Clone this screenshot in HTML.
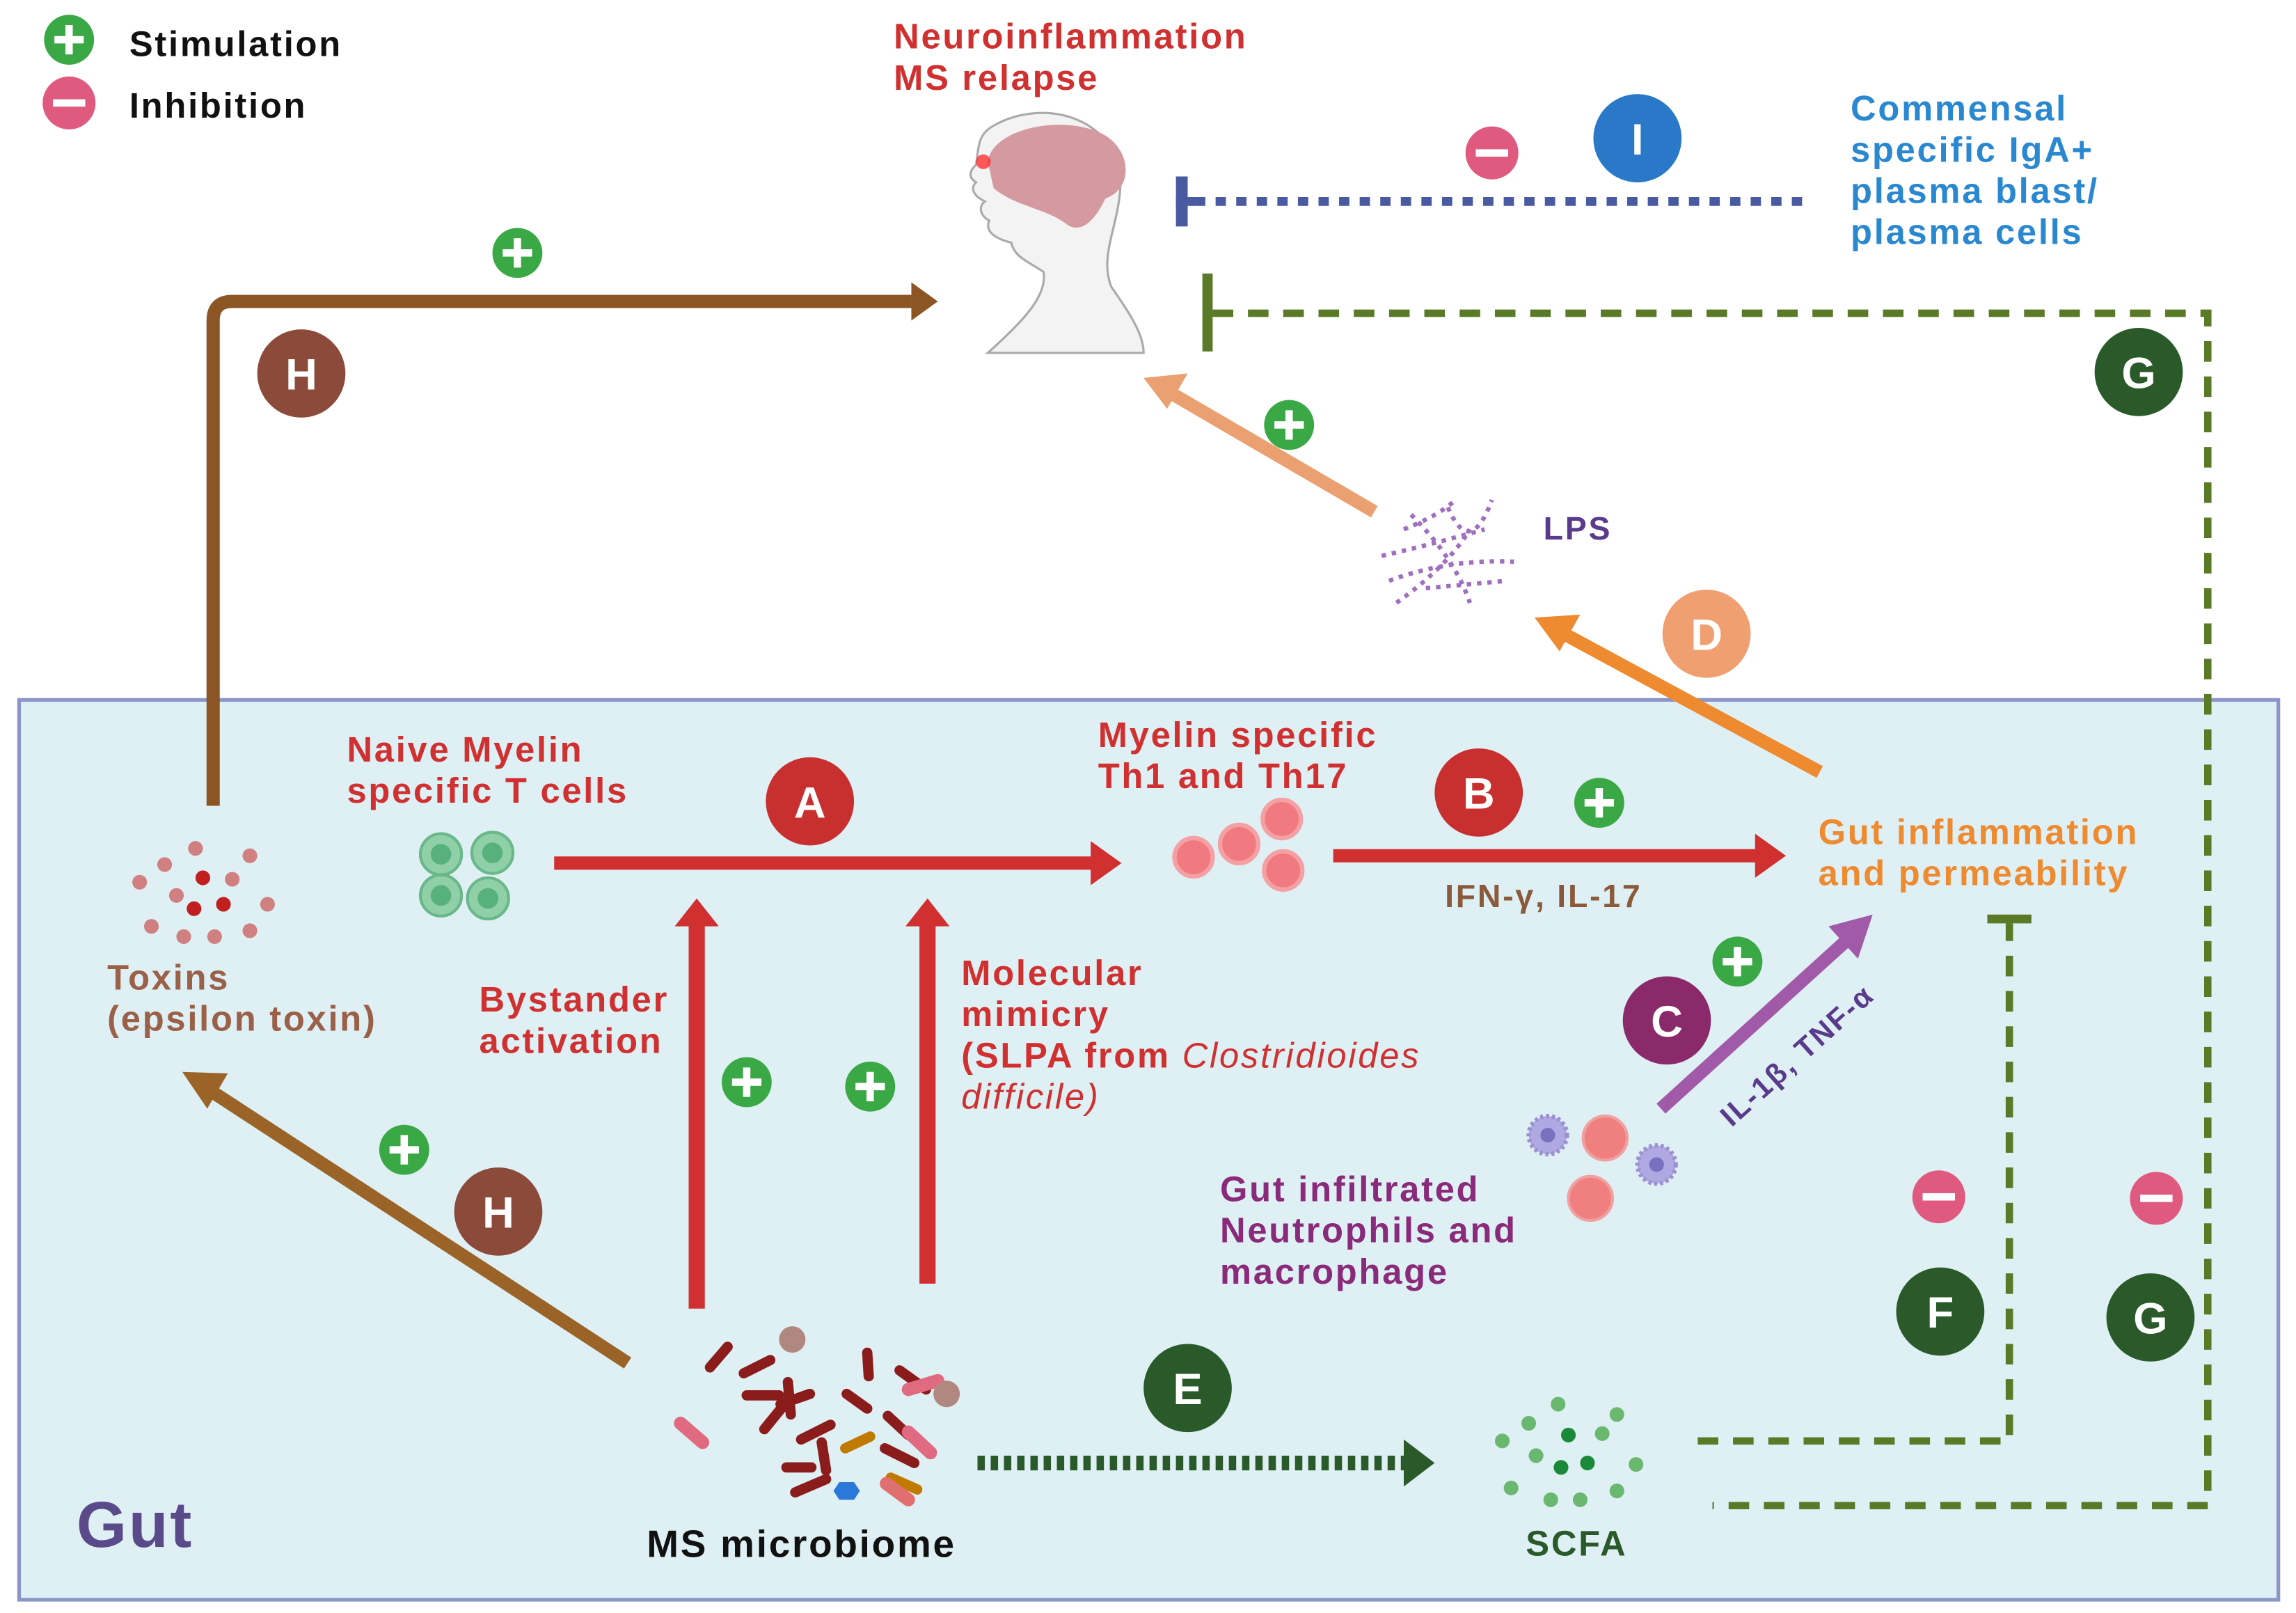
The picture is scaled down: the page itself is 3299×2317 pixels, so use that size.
<!DOCTYPE html>
<html><head><meta charset="utf-8"><style>
html,body{margin:0;padding:0;background:#fff}
svg{display:block}
text{font-family:"Liberation Sans",sans-serif;font-weight:bold;letter-spacing:1.3px}
text.c{letter-spacing:0}
</style></head><body>
<svg width="3299" height="2317" viewBox="0 0 1562 1097" xmlns="http://www.w3.org/2000/svg">
<defs>
<g id="plus"><circle r="17" fill="#3aa845"/><rect x="-10" y="-2.5" width="20" height="5" fill="#fff"/><rect x="-2.5" y="-10" width="5" height="20" fill="#fff"/></g>
<g id="minus"><circle r="18" fill="#e05a80"/><rect x="-11" y="-2.5" width="22" height="5" fill="#fff"/></g>
</defs>
<rect x="0" y="0" width="1562" height="1097" fill="#fff"/>
<rect x="13" y="476" width="1537" height="612" fill="#dff0f5" stroke="#8a96c8" stroke-width="2.5"/>
<use href="#plus" x="47" y="27"/>
<use href="#minus" x="47" y="70"/>
<text x="88" y="38" font-size="24" fill="#111">Stimulation</text>
<text x="88" y="80" font-size="24" fill="#111">Inhibition</text>
<text x="608" y="33" font-size="24" fill="#d03030">Neuroinflammation</text>
<text x="608" y="61" font-size="24" fill="#d03030">MS relapse</text>
<!-- Head -->
<path d="M672 240 C700 215 712 200 710 185 C700 178 690 175 688 165 C676 162 670 157 673 150 C666 146 666 140 670 137 C662 133 660 128 664 124 C658 120 660 116 664 112 C666 100 665 92 675 86 C710 65 765 80 762 130 C760 155 748 175 756 195 C770 215 778 228 778 240 Z" fill="#f3f3f3" stroke="#aaa" stroke-width="1.5"/>
<path d="M672 110 C675 88 720 78 748 90 C770 100 772 128 752 135 C745 150 735 160 725 152 C712 142 690 140 676 128 Z" fill="#d49aa0"/>
<circle cx="669" cy="110" r="5" fill="#ff3030" opacity="0.8"/>
<!-- Blue I -->
<line x1="813" y1="137" x2="1230" y2="137" stroke="#4a5aa0" stroke-width="6" stroke-dasharray="7 7"/>
<rect x="800" y="120" width="8" height="34" fill="#4a5aa0"/>
<line x1="800" y1="137" x2="813" y2="137" stroke="#4a5aa0" stroke-width="6"/>
<use href="#minus" x="1015" y="104"/>
<circle cx="1114" cy="94" r="30" fill="#2a78c8"/><text class="c" x="1114" y="105" font-size="30" fill="#fff" text-anchor="middle">I</text>
<text font-size="24" fill="#2a88d0"><tspan x="1259" y="82">Commensal</tspan><tspan x="1259" y="110">specific IgA+</tspan><tspan x="1259" y="138">plasma blast/</tspan><tspan x="1259" y="166">plasma cells</tspan></text>
<!-- Green G -->
<rect x="818" y="186" width="7" height="53" fill="#5a7a28"/>
<polyline points="825,213 1502,213 1502,1024 1165,1024" fill="none" stroke="#5a7a28" stroke-width="5" stroke-dasharray="14 10"/>
<circle cx="1455" cy="253" r="30" fill="#2a5a2a"/><text class="c" x="1455" y="264" font-size="30" fill="#fff" text-anchor="middle">G</text>
<circle cx="1463" cy="896" r="30" fill="#2a5a2a"/><text class="c" x="1463" y="907" font-size="30" fill="#fff" text-anchor="middle">G</text>
<use href="#minus" x="1467" y="815"/>
<!-- F -->
<polyline points="1155,980 1367,980 1367,628" fill="none" stroke="#5a7a28" stroke-width="5" stroke-dasharray="14 10"/>
<rect x="1352" y="622" width="30" height="6" fill="#5a7a28"/>
<circle cx="1320" cy="892" r="30" fill="#2a5a2a"/><text class="c" x="1320" y="903" font-size="30" fill="#fff" text-anchor="middle">F</text>
<use href="#minus" x="1319" y="814"/>
<!-- H top -->
<path d="M145 548 L145 218 Q145 205 158 205 L620 205" fill="none" stroke="#8b5524" stroke-width="9"/>
<polygon points="620,192 638,205 620,218" fill="#8b5524"/>
<use href="#plus" x="352" y="172"/>
<circle cx="205" cy="254" r="30" fill="#8b4a3a"/><text class="c" x="205" y="265" font-size="30" fill="#fff" text-anchor="middle">H</text>
<!-- LPS arrow -->
<line x1="935" y1="348" x2="796" y2="267" stroke="#eaa070" stroke-width="9"/>
<polygon points="778,257 808,254 794,278" fill="#eaa070"/>
<use href="#plus" x="877" y="289"/>
<g stroke="#a070c0" stroke-width="3" stroke-dasharray="3 4" fill="none">
<path d="M940 378 Q975 370 1010 360"/><path d="M945 395 Q985 380 1030 382"/><path d="M950 410 Q985 385 1000 360"/><path d="M960 350 Q990 380 1000 410"/><path d="M985 345 Q1000 380 1015 340"/><path d="M970 400 L1025 395"/><path d="M955 360 Q980 350 990 340"/>
</g>
<text x="1050" y="367" font-size="22" fill="#5a3a8a">LPS</text>
<!-- D -->
<line x1="1238" y1="525" x2="1062" y2="430" stroke="#ee8a30" stroke-width="9"/>
<polygon points="1044,420 1075,418 1061,443" fill="#ee8a30"/>
<circle cx="1161" cy="431" r="30" fill="#f0a070"/><text class="c" x="1161" y="442" font-size="30" fill="#fff" text-anchor="middle">D</text>
<!-- A -->
<line x1="377" y1="587" x2="745" y2="587" stroke="#d03030" stroke-width="9"/>
<polygon points="742,572 763,587 742,602" fill="#d03030"/>
<circle cx="551" cy="545" r="30" fill="#c83030"/><text class="c" x="551" y="556" font-size="30" fill="#fff" text-anchor="middle">A</text>
<line x1="474" y1="890" x2="474" y2="628" stroke="#d03030" stroke-width="11"/>
<polygon points="459,630 474,611 489,630" fill="#d03030"/>
<line x1="631" y1="873" x2="631" y2="628" stroke="#d03030" stroke-width="11"/>
<polygon points="616,630 631,611 646,630" fill="#d03030"/>
<text font-size="24" fill="#d03030"><tspan x="236" y="518">Naive Myelin</tspan><tspan x="236" y="546">specific T cells</tspan></text>
<g fill="#8fd0a8" stroke="#6ab88a" stroke-width="2"><circle cx="300" cy="581" r="14"/><circle cx="335" cy="580" r="14"/><circle cx="300" cy="609" r="14"/><circle cx="332" cy="611" r="14"/></g>
<g fill="#58b07a"><circle cx="300" cy="581" r="7"/><circle cx="335" cy="580" r="7"/><circle cx="300" cy="609" r="7"/><circle cx="332" cy="611" r="7"/></g>
<text font-size="24" fill="#d03030"><tspan x="747" y="508">Myelin specific</tspan><tspan x="747" y="536">Th1 and Th17</tspan></text>
<g fill="#f07a80" stroke="#f4a0a4" stroke-width="3"><circle cx="812" cy="583" r="13"/><circle cx="843" cy="574" r="13"/><circle cx="872" cy="557" r="13"/><circle cx="873" cy="592" r="13"/></g>
<!-- B -->
<line x1="907" y1="582" x2="1197" y2="582" stroke="#d03030" stroke-width="9"/>
<polygon points="1194,567 1215,582 1194,597" fill="#d03030"/>
<circle cx="1006" cy="539" r="30" fill="#c83030"/><text class="c" x="1006" y="550" font-size="30" fill="#fff" text-anchor="middle">B</text>
<use href="#plus" x="1088" y="546"/>
<text x="983" y="617" font-size="22" fill="#8b5a3a">IFN-γ, IL-17</text>
<text font-size="24" fill="#ee8a30"><tspan x="1237" y="574">Gut inflammation</tspan><tspan x="1237" y="602">and permeability</tspan></text>
<!-- C -->
<line x1="1130" y1="754" x2="1258" y2="638" stroke="#a05aa8" stroke-width="9"/>
<polygon points="1274,622 1264,652 1244,630" fill="#a05aa8"/>
<circle cx="1134" cy="694" r="30" fill="#8a2a6a"/><text class="c" x="1134" y="705" font-size="30" fill="#fff" text-anchor="middle">C</text>
<use href="#plus" x="1182" y="654"/>
<text x="1178" y="767" font-size="20" fill="#5a3a8a" transform="rotate(-42 1178 767)">IL-1β, TNF-α</text>
<g><circle cx="1053" cy="772" r="13" fill="#b0a8e0" stroke="#9a90d0" stroke-dasharray="2 2" stroke-width="3"/><circle cx="1053" cy="772" r="5" fill="#7a70c0"/>
<circle cx="1127" cy="792" r="13" fill="#b0a8e0" stroke="#9a90d0" stroke-dasharray="2 2" stroke-width="3"/><circle cx="1127" cy="792" r="5" fill="#7a70c0"/>
<circle cx="1092" cy="774" r="15" fill="#f08080" stroke="#f0a0a0" stroke-width="2"/><circle cx="1082" cy="815" r="15" fill="#f08080" stroke="#f0a0a0" stroke-width="2"/></g>
<text font-size="24" fill="#8a2a7a"><tspan x="830" y="817">Gut infiltrated</tspan><tspan x="830" y="845">Neutrophils and</tspan><tspan x="830" y="873">macrophage</tspan></text>
<text font-size="24" fill="#d03030"><tspan x="326" y="688">Bystander</tspan><tspan x="326" y="716">activation</tspan></text>
<text font-size="24" fill="#d03030"><tspan x="654" y="670">Molecular</tspan><tspan x="654" y="698">mimicry</tspan><tspan x="654" y="726">(SLPA from <tspan font-style="italic" font-weight="normal">Clostridioides</tspan></tspan><tspan x="654" y="754" font-style="italic" font-weight="normal">difficile)</tspan></text>
<use href="#plus" x="508" y="736"/><use href="#plus" x="592" y="739"/><use href="#plus" x="275" y="782"/>
<!-- H bottom -->
<line x1="427" y1="927" x2="142" y2="741" stroke="#9a6428" stroke-width="9"/>
<polygon points="124,729 155,730 141,754" fill="#9a6428"/>
<circle cx="339" cy="824" r="30" fill="#8b4a3a"/><text class="c" x="339" y="835" font-size="30" fill="#fff" text-anchor="middle">H</text>
<text font-size="24" fill="#9a6048"><tspan x="73" y="673">Toxins</tspan><tspan x="73" y="701">(epsilon toxin)</tspan></text>
<g fill="#d08080"><circle cx="112" cy="588" r="5"/><circle cx="133" cy="577" r="5"/><circle cx="170" cy="582" r="5"/><circle cx="95" cy="600" r="5"/><circle cx="120" cy="609" r="5"/><circle cx="158" cy="598" r="5"/><circle cx="182" cy="615" r="5"/><circle cx="103" cy="630" r="5"/><circle cx="125" cy="637" r="5"/><circle cx="146" cy="637" r="5"/><circle cx="170" cy="633" r="5"/></g>
<g fill="#c02020"><circle cx="138" cy="597" r="5"/><circle cx="132" cy="618" r="5"/><circle cx="152" cy="615" r="5"/></g>
<!-- microbiome -->
<g stroke-linecap="round" stroke-width="7">
<line x1="483" y1="930" x2="495" y2="916" stroke="#8b1c1c"/><line x1="506" y1="934" x2="524" y2="925" stroke="#8b1c1c"/><line x1="508" y1="949" x2="530" y2="949" stroke="#8b1c1c"/><line x1="536" y1="940" x2="538" y2="962" stroke="#8b1c1c"/><line x1="531" y1="955" x2="551" y2="948" stroke="#8b1c1c"/><line x1="520" y1="972" x2="533" y2="956" stroke="#8b1c1c"/><line x1="545" y1="979" x2="565" y2="969" stroke="#8b1c1c"/><line x1="535" y1="998" x2="552" y2="998" stroke="#8b1c1c"/><line x1="541" y1="1015" x2="562" y2="1006" stroke="#8b1c1c"/><line x1="559" y1="981" x2="562" y2="1000" stroke="#8b1c1c"/><line x1="590" y1="920" x2="591" y2="936" stroke="#8b1c1c"/><line x1="576" y1="948" x2="590" y2="958" stroke="#8b1c1c"/><line x1="612" y1="932" x2="630" y2="945" stroke="#8b1c1c"/><line x1="604" y1="963" x2="618" y2="976" stroke="#8b1c1c"/><line x1="602" y1="985" x2="622" y2="995" stroke="#8b1c1c"/><line x1="575" y1="985" x2="592" y2="977" stroke="#c07a00"/><line x1="606" y1="1005" x2="624" y2="1013" stroke="#c07a00"/><line x1="618" y1="945" x2="638" y2="939" stroke="#e06a80" stroke-width="9"/><line x1="463" y1="968" x2="478" y2="981" stroke="#e06a80" stroke-width="9"/><line x1="618" y1="974" x2="633" y2="988" stroke="#e06a80" stroke-width="9"/><line x1="603" y1="1009" x2="618" y2="1020" stroke="#e07070" stroke-width="9"/>
</g>
<circle cx="539" cy="911" r="9" fill="#b08880"/><circle cx="644" cy="948" r="9" fill="#b08880"/>
<polygon points="567,1014 571,1008 581,1008 585,1014 581,1020 571,1020" fill="#2a78d8"/>
<text x="440" y="1059" font-size="26" fill="#111">MS microbiome</text>
<!-- E -->
<line x1="665" y1="995" x2="955" y2="995" stroke="#2a5a2a" stroke-width="10" stroke-dasharray="5 4"/>
<polygon points="955,979 976,995 955,1011" fill="#2a5a2a"/>
<circle cx="808" cy="944" r="30" fill="#2a5a2a"/><text class="c" x="808" y="955" font-size="30" fill="#fff" text-anchor="middle">E</text>
<g fill="#6ab870"><circle cx="1060" cy="955" r="5"/><circle cx="1100" cy="962" r="5"/><circle cx="1040" cy="968" r="5"/><circle cx="1022" cy="980" r="5"/><circle cx="1090" cy="975" r="5"/><circle cx="1045" cy="990" r="5"/><circle cx="1113" cy="996" r="5"/><circle cx="1028" cy="1012" r="5"/><circle cx="1055" cy="1020" r="5"/><circle cx="1075" cy="1020" r="5"/><circle cx="1100" cy="1014" r="5"/></g>
<g fill="#1a8a3a"><circle cx="1067" cy="976" r="5"/><circle cx="1062" cy="998" r="5"/><circle cx="1080" cy="995" r="5"/></g>
<text x="1038" y="1058" font-size="24" fill="#2a5a2a">SCFA</text>
<text x="52" y="1052" font-size="44" fill="#5a4a8a">Gut</text>
</svg>
</body></html>
